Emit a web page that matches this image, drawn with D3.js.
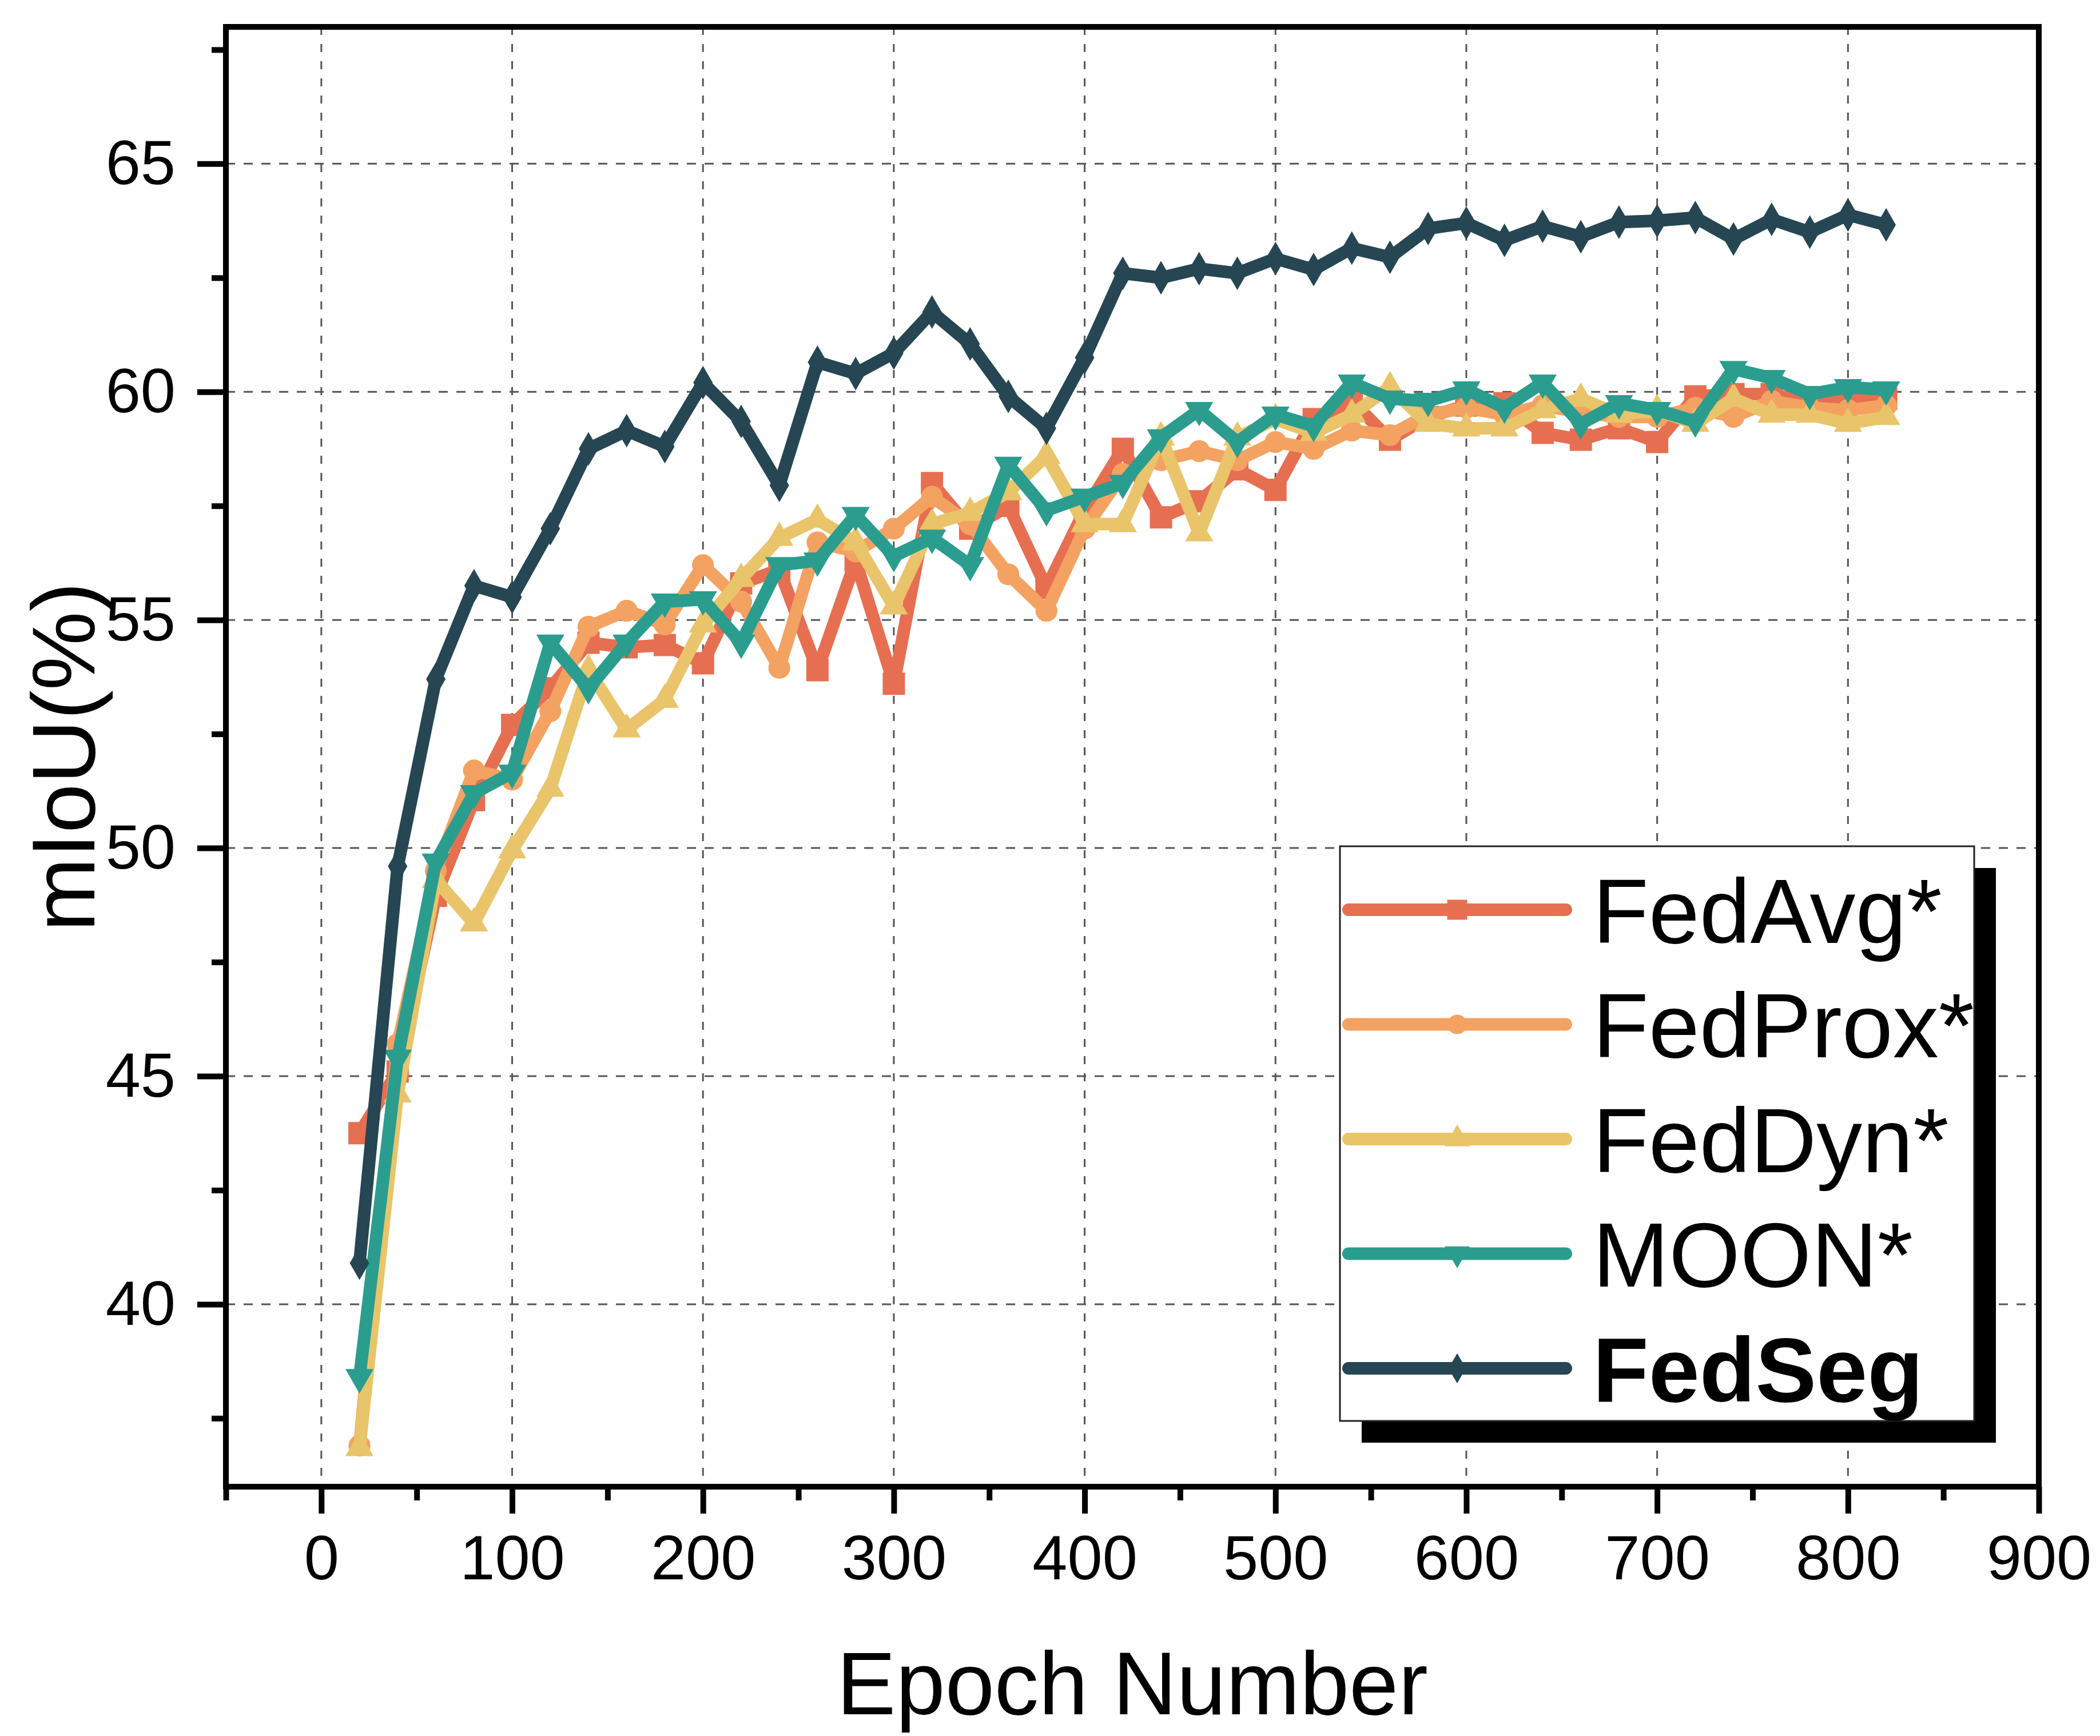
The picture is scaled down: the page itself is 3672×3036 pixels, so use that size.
<!DOCTYPE html>
<html>
<head>
<meta charset="utf-8">
<script src="https://cdn.jsdelivr.net/npm/d3@7"></script>
<style>
  html, body { margin: 0; padding: 0; background: #ffffff; }
  svg { display: block; }
  text { font-family: "Liberation Sans", Arial, Helvetica, sans-serif; fill: #000; }
</style>
</head>
<body>
<script>
// ---------------- data ----------------
const epochs = [20,40,60,80,100,120,140,160,180,200,220,240,260,280,300,320,340,360,380,400,420,440,460,480,500,520,540,560,580,600,620,640,660,680,700,720,740,760,780,800,820];

const fedAvg  = [43.75,45.1,48.95,51.05,52.7,53.5,54.5,54.4,54.45,54.05,55.8,56.1,53.9,56.3,53.6,58.0,57.0,57.5,55.7,57.4,58.75,57.25,57.6,58.3,57.85,59.4,59.8,58.95,59.45,59.7,59.75,59.1,58.95,59.2,58.9,59.9,59.95,59.95,59.75,59.9,59.85];
const fedProx = [36.9,45.7,49.5,51.7,51.5,53.0,54.85,55.2,54.9,56.2,55.4,53.95,56.7,56.5,57.0,57.7,57.1,56.0,55.2,57.0,58.2,58.5,58.7,58.5,58.9,58.75,59.15,59.05,59.5,59.65,59.5,59.7,59.55,59.45,59.45,59.65,59.45,59.8,59.65,59.6,59.7];
const fedDyn  = [36.85,44.6,49.3,48.35,49.95,51.3,53.9,52.6,53.25,54.9,55.9,56.8,57.2,56.7,55.3,57.1,57.35,57.8,58.6,57.1,57.1,59.0,56.9,59.0,59.4,59.1,59.5,60.1,59.3,59.2,59.2,59.6,59.85,59.5,59.6,59.3,59.85,59.5,59.5,59.3,59.45];
const moon    = [38.4,45.4,49.7,51.2,51.65,54.5,53.5,54.5,55.4,55.45,54.5,56.2,56.3,57.3,56.4,56.8,56.2,58.4,57.4,57.7,58.0,59.0,59.6,58.9,59.5,59.25,60.2,59.85,59.8,60.05,59.65,60.2,59.3,59.75,59.6,59.35,60.5,60.3,59.95,60.1,60.05];
const fedSeg  = [40.9,49.6,53.7,55.75,55.5,57.0,58.75,59.15,58.8,60.2,59.35,57.95,60.65,60.4,60.85,61.75,61.05,59.9,59.2,60.75,62.6,62.5,62.7,62.6,62.92,62.68,63.15,62.95,63.58,63.7,63.32,63.63,63.4,63.72,63.75,63.82,63.35,63.78,63.5,63.88,63.66];

const seriesNames = ["FedAvg*","FedProx*","FedDyn*","MOON*","FedSeg"];
const seriesColors = ["#E76F51","#F4A261","#E9C46A","#2A9D8F","#264653"];

const xTicks = [0,100,200,300,400,500,600,700,800,900];
const xMinorTicks = [-50,50,150,250,350,450,550,650,750,850];
const yTicks = [40,45,50,55,60,65];
const yMinorTicks = [37.5,42.5,47.5,52.5,57.5,62.5,67.5];
const xGrid = [0,100,200,300,400,500,600,700,800];
const yGrid = [40,45,50,55,60,65];

const xTitle = "Epoch Number";
const yTitle = "mIoU(%)";

// ---------------- layout ----------------
const W = 3672, H = 3036;
const L = 395, R = 3565, T = 47, B = 2600;

const svg = d3.select("body").append("svg")
  .attr("width", W).attr("height", H)
  .attr("viewBox", `0 0 ${W} ${H}`);

svg.append("rect").attr("width", W).attr("height", H).attr("fill", "#fff");

const x = d3.scaleLinear().domain([-50, 900]).range([L, R]);
const y = d3.scaleLinear().domain([36, 68]).range([B, T]);

// grid
const grid = svg.append("g");
grid.selectAll("line.vg").data(xGrid).join("line")
  .attr("x1", d => x(d)).attr("x2", d => x(d))
  .attr("y1", T).attr("y2", B)
  .attr("stroke", "#555").attr("stroke-width", 3).attr("stroke-dasharray", "14,16");
grid.selectAll("line.hg").data(yGrid).join("line")
  .attr("x1", L).attr("x2", R)
  .attr("y1", d => y(d)).attr("y2", d => y(d))
  .attr("stroke", "#555").attr("stroke-width", 3).attr("stroke-dasharray", "16,15");

// axes
const fontTick = 110;
const xAxis = d3.axisBottom(x).tickValues(xTicks).tickSize(47).tickPadding(37).tickFormat(d3.format("d"));
const xAxisMinor = d3.axisBottom(x).tickValues(xMinorTicks).tickSize(24).tickFormat("");
const yAxis = d3.axisLeft(y).tickValues(yTicks).tickSize(50).tickPadding(38).tickFormat(d3.format("d"));
const yAxisMinor = d3.axisLeft(y).tickValues(yMinorTicks).tickSize(25).tickFormat("");

function styleAxis(g) {
  g.select(".domain").remove();
  g.selectAll(".tick line").attr("stroke", "#000").attr("stroke-width", 10);
  g.selectAll(".tick text").attr("font-size", fontTick)
    .attr("font-family", "'Liberation Sans', Arial, sans-serif").attr("fill", "#000");
}
svg.append("g").attr("transform", `translate(0,${B})`).call(xAxisMinor).call(styleAxis);
svg.append("g").attr("transform", `translate(0,${B})`).call(xAxis).call(styleAxis);
svg.append("g").attr("transform", `translate(${L},0)`).call(yAxisMinor).call(styleAxis);
svg.append("g").attr("transform", `translate(${L},0)`).call(yAxis).call(styleAxis);

// frame
svg.append("rect").attr("x", L).attr("y", T).attr("width", R - L).attr("height", B - T)
  .attr("fill", "none").attr("stroke", "#000").attr("stroke-width", 10);

// titles
svg.append("text").attr("x", (L + R) / 2).attr("y", 2998)
  .attr("text-anchor", "middle").attr("font-size", 155).text(xTitle);
svg.append("text").attr("transform", `translate(165,${(T + B) / 2}) rotate(-90)`)
  .attr("text-anchor", "middle").attr("font-size", 155).text(yTitle);

// series
const allValues = [fedAvg, fedProx, fedDyn, moon, fedSeg];
const symbols = [
  {type: d3.symbolSquare, size: 1520, rot: 0},
  {type: d3.symbolCircle, size: 1150, rot: 0},
  {type: d3.symbolTriangle, size: 1050, rot: 0},
  {type: d3.symbolTriangle, size: 1050, rot: 180},
  {type: d3.symbolDiamond, size: 1000, rot: 0}
];

const line = d3.line().x(d => x(d[0])).y(d => y(d[1]));

allValues.forEach((vals, i) => {
  const pts = epochs.map((e, j) => [e, vals[j]]);
  const g = svg.append("g");
  g.append("path").datum(pts).attr("d", line)
    .attr("fill", "none").attr("stroke", seriesColors[i]).attr("stroke-width", 22)
    .attr("stroke-linejoin", "round").attr("stroke-linecap", "round");
  const sym = d3.symbol().type(symbols[i].type).size(symbols[i].size);
  g.selectAll("path.m").data(pts).join("path")
    .attr("transform", d => `translate(${x(d[0])},${y(d[1])}) rotate(${symbols[i].rot})`)
    .attr("d", sym).attr("fill", seriesColors[i]);
});

// legend
const LX = 2343, LY = 1480, LW = 1109, LH = 1005;
svg.append("rect").attr("x", LX + 38).attr("y", LY + 38).attr("width", LW).attr("height", LH).attr("fill", "#000");
svg.append("rect").attr("x", LX).attr("y", LY).attr("width", LW).attr("height", LH)
  .attr("fill", "#fff").attr("stroke", "#222").attr("stroke-width", 3);

seriesNames.forEach((name, i) => {
  const cy = 1591 + i * 200.5;
  const g = svg.append("g");
  g.append("line").attr("x1", 2358).attr("x2", 2738).attr("y1", cy).attr("y2", cy)
    .attr("stroke", seriesColors[i]).attr("stroke-width", 22).attr("stroke-linecap", "round");
  const sym = d3.symbol().type(symbols[i].type).size(symbols[i].size * 0.8);
  g.append("path").attr("transform", `translate(2548,${cy}) rotate(${symbols[i].rot})`)
    .attr("d", sym).attr("fill", seriesColors[i]);
  g.append("text").attr("x", 2785).attr("y", cy).attr("dy", "0.36em")
    .attr("font-size", 160).attr("font-weight", i === 4 ? "bold" : "normal").text(name);
});
</script>
</body>
</html>
